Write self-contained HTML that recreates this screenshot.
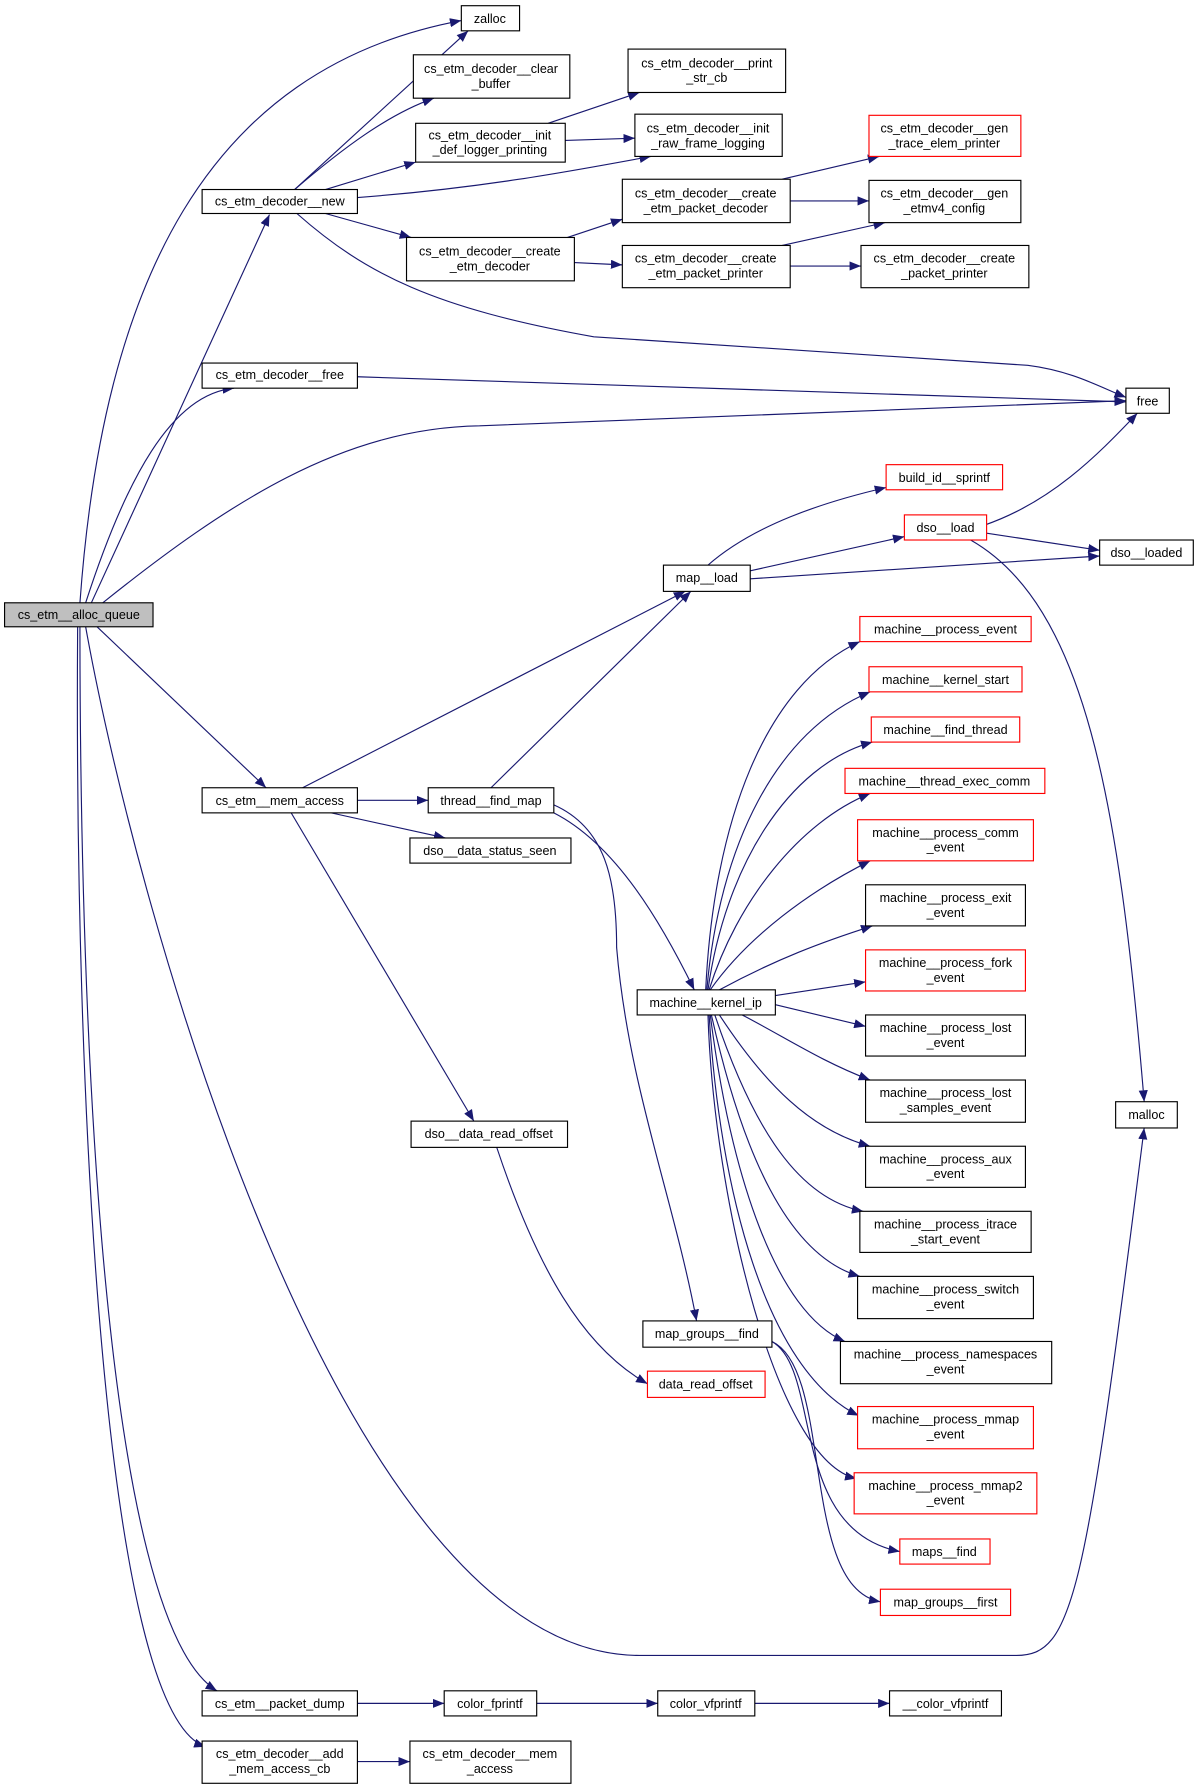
<!DOCTYPE html>
<html><head><meta charset="utf-8"><style>
html,body{margin:0;padding:0;background:#fff;}
svg{display:block;}
text{font-family:"Liberation Sans",sans-serif;font-size:11px;fill:#000;text-anchor:middle;}
.n{fill:#fff;stroke:#000;stroke-width:1;}
.r{fill:#fff;stroke:#ff0000;stroke-width:1;}
.e{fill:none;stroke:#191970;stroke-width:1;marker-end:url(#a);}
</style></head><body>
<svg width="1199" height="1789" viewBox="0 0 1050 1567" preserveAspectRatio="none">
<defs><marker id="a" markerWidth="10" markerHeight="8" refX="10" refY="4" orient="auto" markerUnits="userSpaceOnUse"><path d="M0,0L10,4L0,8z" fill="#191970"/></marker></defs>
<g>
<path class="e" d="M70,528 C90,250 180,60 404,18"/>
<path class="e" d="M80,528 L236,188"/>
<path class="e" d="M75,528 C110,420 150,345 205,340"/>
<path class="e" d="M90,528 C200,440 300,375 420,373 L986,351"/>
<path class="e" d="M85,549 L233,690"/>
<path class="e" d="M75,549 C120,800 300,1450 560,1450 L890,1450 C940,1450 950,1400 1002,988"/>
<path class="e" d="M70,549 C70,900 90,1420 190,1481"/>
<path class="e" d="M68,549 C65,950 90,1500 180,1530"/>
<path class="e" d="M258,166 L410,27"/>
<path class="e" d="M258,166 C300,130 340,100 380,86"/>
<path class="e" d="M285,166 L364,142"/>
<path class="e" d="M313,173 C420,165 500,150 570,137"/>
<path class="e" d="M285,187 L360,208"/>
<path class="e" d="M260,187 C320,240 380,270 520,295 L900,320 C940,325 965,340 986,348"/>
<path class="e" d="M313,330 L986,352"/>
<path class="e" d="M480,108 L560,81"/>
<path class="e" d="M495,123 L556,121"/>
<path class="e" d="M497,208 L545,192"/>
<path class="e" d="M503,230 L545,232"/>
<path class="e" d="M685,157 L770,137"/>
<path class="e" d="M692,176 L761,176"/>
<path class="e" d="M685,215 L775,195"/>
<path class="e" d="M692,233 L754,233"/>
<path class="e" d="M620,495 C660,460 720,440 776,427"/>
<path class="e" d="M657,500 L792,470"/>
<path class="e" d="M657,507 L963,487"/>
<path class="e" d="M862,460 C920,440 960,400 996,362"/>
<path class="e" d="M864,467 L963,482"/>
<path class="e" d="M850,473 C950,530 980,700 1002,965"/>
<path class="e" d="M265,690 L600,518"/>
<path class="e" d="M313,701 L375,701"/>
<path class="e" d="M290,712 L390,734"/>
<path class="e" d="M255,712 L415,982"/>
<path class="e" d="M430,690 L605,518"/>
<path class="e" d="M485,712 C540,740 580,810 608,867"/>
<path class="e" d="M485,705 C530,725 540,770 540,830 C550,950 590,1050 610,1157"/>
<path class="e" d="M618,867 C625,720 670,600 753,562"/>
<path class="e" d="M619,867 C630,740 680,640 762,606"/>
<path class="e" d="M620,867 C635,760 690,670 764,650"/>
<path class="e" d="M621,867 C645,790 700,720 762,695"/>
<path class="e" d="M622,867 C655,820 710,780 762,754"/>
<path class="e" d="M630,867 C680,840 720,825 764,811"/>
<path class="e" d="M679,872 L758,860"/>
<path class="e" d="M679,880 L758,899"/>
<path class="e" d="M650,889 C690,910 720,930 762,946"/>
<path class="e" d="M630,889 C670,950 710,990 762,1004"/>
<path class="e" d="M626,889 C660,990 700,1050 756,1061"/>
<path class="e" d="M623,889 C650,1010 690,1100 753,1118"/>
<path class="e" d="M622,889 C640,1030 680,1150 740,1175"/>
<path class="e" d="M621,889 C630,1040 670,1200 752,1240"/>
<path class="e" d="M620,889 C625,1050 680,1280 750,1295"/>
<path class="e" d="M435,1005 C470,1110 510,1180 567,1212"/>
<path class="e" d="M676,1175 C720,1200 690,1340 788,1359"/>
<path class="e" d="M676,1175 C730,1200 700,1390 771,1403"/>
<path class="e" d="M313,1492 L389,1492"/>
<path class="e" d="M470,1492 L576,1492"/>
<path class="e" d="M661,1492 L779,1492"/>
<path class="e" d="M313,1543 L359,1543"/>
</g>
<rect x="4" y="528" width="130" height="21" fill="#bfbfbf" stroke="#000"/><text x="69" y="542">cs_etm__alloc_queue</text>
<rect class="n" x="404" y="5" width="51" height="22"/><text x="429" y="20">zalloc</text>
<rect class="n" x="362" y="48" width="137" height="38"/><text x="430" y="64">cs_etm_decoder__clear</text><text x="430" y="77">_buffer</text>
<rect class="n" x="550" y="43" width="138" height="38"/><text x="619" y="59">cs_etm_decoder__print</text><text x="619" y="72">_str_cb</text>
<rect class="n" x="364" y="108" width="131" height="34"/><text x="429" y="122">cs_etm_decoder__init</text><text x="429" y="135">_def_logger_printing</text>
<rect class="n" x="556" y="100" width="129" height="37"/><text x="620" y="116">cs_etm_decoder__init</text><text x="620" y="129">_raw_frame_logging</text>
<rect class="n" x="177" y="166" width="136" height="21"/><text x="245" y="180">cs_etm_decoder__new</text>
<rect class="r" x="761" y="101" width="133" height="36"/><text x="827" y="116">cs_etm_decoder__gen</text><text x="827" y="129">_trace_elem_printer</text>
<rect class="n" x="545" y="157" width="147" height="38"/><text x="618" y="173">cs_etm_decoder__create</text><text x="618" y="186">_etm_packet_decoder</text>
<rect class="n" x="761" y="158" width="133" height="37"/><text x="827" y="173">cs_etm_decoder__gen</text><text x="827" y="186">_etmv4_config</text>
<rect class="n" x="356" y="208" width="147" height="38"/><text x="429" y="224">cs_etm_decoder__create</text><text x="429" y="237">_etm_decoder</text>
<rect class="n" x="545" y="215" width="147" height="37"/><text x="618" y="230">cs_etm_decoder__create</text><text x="618" y="243">_etm_packet_printer</text>
<rect class="n" x="754" y="215" width="147" height="37"/><text x="827" y="230">cs_etm_decoder__create</text><text x="827" y="243">_packet_printer</text>
<rect class="n" x="177" y="318" width="136" height="22"/><text x="245" y="332">cs_etm_decoder__free</text>
<rect class="n" x="986" y="340" width="38" height="22"/><text x="1005" y="355">free</text>
<rect class="r" x="776" y="407" width="102" height="22"/><text x="827" y="422">build_id__sprintf</text>
<rect class="r" x="792" y="451" width="72" height="22"/><text x="828" y="466">dso__load</text>
<rect class="n" x="963" y="473" width="82" height="22"/><text x="1004" y="488">dso__loaded</text>
<rect class="n" x="581" y="495" width="76" height="23"/><text x="619" y="510">map__load</text>
<rect class="r" x="753" y="540" width="150" height="22"/><text x="828" y="555">machine__process_event</text>
<rect class="r" x="761" y="584" width="134" height="22"/><text x="828" y="599">machine__kernel_start</text>
<rect class="r" x="763" y="628" width="130" height="22"/><text x="828" y="643">machine__find_thread</text>
<rect class="r" x="740" y="673" width="175" height="22"/><text x="827" y="688">machine__thread_exec_comm</text>
<rect class="r" x="751" y="718" width="154" height="36"/><text x="828" y="733">machine__process_comm</text><text x="828" y="746">_event</text>
<rect class="n" x="758" y="775" width="140" height="36"/><text x="828" y="790">machine__process_exit</text><text x="828" y="803">_event</text>
<rect class="r" x="758" y="832" width="140" height="36"/><text x="828" y="847">machine__process_fork</text><text x="828" y="860">_event</text>
<rect class="n" x="758" y="889" width="140" height="36"/><text x="828" y="904">machine__process_lost</text><text x="828" y="917">_event</text>
<rect class="n" x="758" y="946" width="140" height="37"/><text x="828" y="961">machine__process_lost</text><text x="828" y="974">_samples_event</text>
<rect class="n" x="758" y="1004" width="140" height="36"/><text x="828" y="1019">machine__process_aux</text><text x="828" y="1032">_event</text>
<rect class="n" x="753" y="1061" width="150" height="36"/><text x="828" y="1076">machine__process_itrace</text><text x="828" y="1089">_start_event</text>
<rect class="n" x="751" y="1118" width="154" height="37"/><text x="828" y="1133">machine__process_switch</text><text x="828" y="1146">_event</text>
<rect class="n" x="736" y="1175" width="185" height="37"/><text x="828" y="1190">machine__process_namespaces</text><text x="828" y="1203">_event</text>
<rect class="r" x="751" y="1232" width="154" height="37"/><text x="828" y="1247">machine__process_mmap</text><text x="828" y="1260">_event</text>
<rect class="r" x="748" y="1290" width="160" height="36"/><text x="828" y="1305">machine__process_mmap2</text><text x="828" y="1318">_event</text>
<rect class="r" x="788" y="1348" width="79" height="22"/><text x="827" y="1363">maps__find</text>
<rect class="r" x="771" y="1392" width="114" height="23"/><text x="828" y="1407">map_groups__first</text>
<rect class="n" x="177" y="690" width="136" height="22"/><text x="245" y="705">cs_etm__mem_access</text>
<rect class="n" x="375" y="690" width="110" height="22"/><text x="430" y="705">thread__find_map</text>
<rect class="n" x="359" y="734" width="141" height="22"/><text x="429" y="749">dso__data_status_seen</text>
<rect class="n" x="558" y="867" width="121" height="22"/><text x="618" y="882">machine__kernel_ip</text>
<rect class="n" x="977" y="965" width="54" height="23"/><text x="1004" y="980">malloc</text>
<rect class="n" x="360" y="982" width="137" height="23"/><text x="428" y="997">dso__data_read_offset</text>
<rect class="n" x="563" y="1157" width="113" height="23"/><text x="619" y="1172">map_groups__find</text>
<rect class="r" x="567" y="1201" width="103" height="23"/><text x="618" y="1216">data_read_offset</text>
<rect class="n" x="177" y="1481" width="136" height="22"/><text x="245" y="1496">cs_etm__packet_dump</text>
<rect class="n" x="389" y="1481" width="81" height="22"/><text x="429" y="1496">color_fprintf</text>
<rect class="n" x="576" y="1481" width="85" height="22"/><text x="618" y="1496">color_vfprintf</text>
<rect class="n" x="779" y="1481" width="98" height="22"/><text x="828" y="1496">__color_vfprintf</text>
<rect class="n" x="177" y="1525" width="136" height="37"/><text x="245" y="1540">cs_etm_decoder__add</text><text x="245" y="1553">_mem_access_cb</text>
<rect class="n" x="359" y="1525" width="141" height="37"/><text x="429" y="1540">cs_etm_decoder__mem</text><text x="429" y="1553">_access</text>
</svg>
</body></html>
